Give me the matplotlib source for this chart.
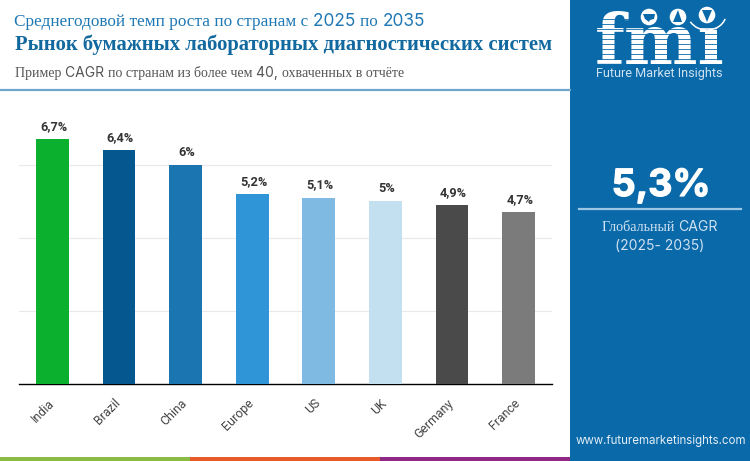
import re

import matplotlib
matplotlib.use("Agg")
import matplotlib.pyplot as plt
import matplotlib.patheffects as pe
from matplotlib.patches import Circle, Polygon, Rectangle, Arc
from matplotlib.transforms import ScaledTranslation

countries = ["India", "Brazil", "China", "Europe", "US", "UK", "Germany", "France"]
cagr = [6.7, 6.4, 6.0, 5.2, 5.1, 5.0, 4.9, 4.7]
value_labels = ["6,7%", "6,4%", "6%", "5,2%", "5,1%", "5%", "4,9%", "4,7%"]
bar_colors = ["#0bb02f", "#04588f", "#1a75b0", "#2f95d6", "#7fbae3", "#c2e0f0", "#4a4a4a", "#7b7b7b"]
grid_values = [2, 4, 6]

title_top = "Среднегодовой темп роста по странам с 2025 по 2035"
title_main = "Рынок бумажных лабораторных диагностических систем"
subtitle = "Пример CAGR по странам из более чем 40, охваченных в отчёте"
global_value = "5,3%"
global_label = "Глобальный CAGR"
global_years = "(2025- 2035)"
website = "www.futuremarketinsights.com"
brand = "Future Market Insights"

PANEL = "#0a69a9"
TITLE_BLUE = "#1f78b4"

fig = plt.figure(figsize=(7.5, 4.61), dpi=100, facecolor="white")

# page layer in pixel coordinates, y pointing down like the reference
page = fig.add_axes([0, 0, 1, 1])
page.set_xlim(0, 750)
page.set_ylim(461, 0)
page.axis("off")


def mixed_text(x, y, s, size, color, sans="Inter", serif="Liberation Serif"):
    # cyrillic falls back to a serif in the reference, latin and digits stay sans
    rend = fig.canvas.get_renderer()
    for run in re.findall(r"[А-Яа-яЁё]+(?:[ ,]+[А-Яа-яЁё]+)*[ ,]*|[^А-Яа-яЁё]+", s):
        family = serif if re.match(r"[А-Яа-яЁё]", run) else sans
        page.text(x, y, run, fontsize=size, color=color, family=family, va="baseline")
        probe = page.text(0, 0, run + "|", fontsize=size, family=family)
        bar = page.text(0, 0, "|", fontsize=size, family=family)
        x += probe.get_window_extent(rend).width - bar.get_window_extent(rend).width
        probe.remove()
        bar.remove()
    return x


# right panel and bottom strip
page.add_patch(Rectangle((570, 0), 180, 461, color=PANEL, lw=0))
page.add_patch(Rectangle((0, 457), 190, 4, color="#8cbb45", lw=0))
page.add_patch(Rectangle((190, 457), 190, 4, color="#e85a28", lw=0))
page.add_patch(Rectangle((380, 457), 190, 4, color="#8e2a85", lw=0))
page.plot([0, 570], [90, 90], color="#6ea6cf", lw=1.6)

# headers
mixed_text(14.5, 26, title_top, 12.45, TITLE_BLUE)
page.text(15, 50, title_main, fontsize=14.9, fontweight="bold", color="#12699f",
          family="Liberation Serif", va="baseline")
mixed_text(15, 77, subtitle, 10.0, "#555555")

# logo, dotless i because the globes sit where the dot would be
page.text(660, 64, "fmı", fontsize=50, fontweight="bold", color="white", family="DejaVu Serif",
          ha="center", va="baseline")
for y in range(19, 66, 5):
    page.plot([595, 725], [y, y], color=PANEL, lw=0.6, zorder=3)
for cx, cy in [(649, 17), (678, 17), (707, 15)]:
    page.add_patch(Circle((cx, cy), 9, color="white", ec=PANEL, lw=1, zorder=4))
page.add_patch(Polygon([(643, 14), (655, 14), (654, 19), (650, 20), (649, 22), (645, 19)],
                       color=PANEL, lw=0, zorder=5))
page.add_patch(Polygon([(678, 10), (682, 22), (673, 22)], color=PANEL, lw=0, zorder=5))
page.add_patch(Polygon([(702, 10), (712, 10), (709, 17), (707, 22), (705, 17)], color=PANEL, lw=0, zorder=5))
page.add_patch(Arc((707, 14), 38, 32, theta1=15, theta2=155, color="white", lw=1.1, zorder=5))
page.text(659, 74, brand, fontsize=9.1, color="#cfe2f1", family="Roboto", ha="center", va="center")

# global figure
page.text(661, 186, global_value, fontsize=27, fontweight="bold", color="white", family="Inter",
          ha="center", va="center", path_effects=[pe.withStroke(linewidth=0.9, foreground="white")])
page.plot([579, 741], [208.5, 208.5], color="#9cc6e4", lw=1.6)
mixed_text(602, 231, global_label, 10.1, "#cfe2f1")
page.text(660, 246, global_years, fontsize=10, color="#cfe2f1", family="Inter", ha="center", va="center")
page.text(660.5, 441, website, fontsize=8.3, color="#e3eef7", family="Inter", ha="center", va="center")

# bar chart, baseline at y=384 and 73 px per two percent
ax = fig.add_axes([19 / 750, (461 - 384) / 461, 533 / 750, 292 / 461])
ax.patch.set_alpha(0)
ax.bar(range(len(countries)), cagr, width=0.49, color=bar_colors, zorder=3)
ax.set_xlim(-0.5, 7.5)
ax.set_ylim(0, 8)
ax.set_yticks(grid_values)
ax.set_yticklabels([])
ax.tick_params(axis="both", length=0)
ax.grid(axis="y", color="#e9e9e9", lw=0.8, zorder=0)
for side in ["top", "right", "left"]:
    ax.spines[side].set_visible(False)
ax.spines["bottom"].set_color("black")
ax.spines["bottom"].set_linewidth(1.0)
ax.set_xticks(range(len(countries)))
ax.set_xticklabels(countries, rotation=45, ha="right", rotation_mode="anchor",
                   fontsize=8.9, color="#444444", family="Roboto")
ax.tick_params(axis="x", pad=9)
shift = ScaledTranslation(-5 / 100, 0, fig.dpi_scale_trans)
for lab in ax.get_xticklabels():
    lab.set_transform(lab.get_transform() + shift)
for i, (v, lab) in enumerate(zip(cagr, value_labels)):
    ax.annotate(lab, (i, v), xytext=(1, 4.5), textcoords="offset points", ha="center", va="bottom",
                fontsize=9.2, fontweight="bold", color="#333333", family="Roboto")

fig.savefig("out.png", dpi=100)
